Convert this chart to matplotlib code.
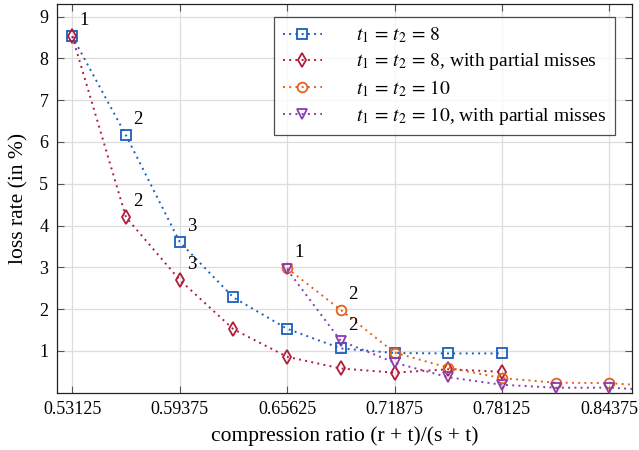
import matplotlib
matplotlib.use("Agg")
import matplotlib.pyplot as plt

plt.rcParams['font.family'] = ['Liberation Serif', 'DejaVu Serif']
plt.rcParams['mathtext.fontset'] = 'stix'

# data
x_t8 = [0.53125, 0.5625, 0.59375, 0.625, 0.65625, 0.6875, 0.71875, 0.75, 0.78125]
y_t8 = [8.53, 6.16, 3.61, 2.28, 1.53, 1.06, 0.95, 0.94, 0.94]
x_t8p = [0.53125, 0.5625, 0.59375, 0.625, 0.65625, 0.6875, 0.71875, 0.75, 0.78125]
y_t8p = [8.53, 4.20, 2.70, 1.52, 0.86, 0.58, 0.48, 0.56, 0.50]
x_t10 = [0.65625, 0.6875, 0.71875, 0.75, 0.78125, 0.8125, 0.84375, 0.875]
y_t10 = [2.98, 1.98, 0.96, 0.60, 0.35, 0.24, 0.23, 0.14]
x_t10p = [0.65625, 0.6875, 0.71875, 0.75, 0.78125, 0.8125, 0.84375, 0.875]
y_t10p = [2.95, 1.24, 0.72, 0.37, 0.19, 0.12, 0.12, 0.05]

labels = [r'$t_1\,=\,t_2\,=\,8$',
          r'$t_1\,=\,t_2\,=\,8$, with partial misses',
          r'$t_1\,=\,t_2\,=\,10$',
          r'$t_1\,=\,t_2\,=\,10$, with partial misses']
colors = ['#1a5fc0', '#b01c3a', '#e4621f', '#8a3cae']
markers = ['s', 'd', 'o', 'v']

xticks = [0.53125, 0.59375, 0.65625, 0.71875, 0.78125, 0.84375]
xticklabels = ['0.53125', '0.59375', '0.65625', '0.71875', '0.78125', '0.84375']
yticks = [1, 2, 3, 4, 5, 6, 7, 8, 9]

# annotations: (series index, point index, text)
notes = [(0, 0, '1'), (0, 1, '2'), (0, 2, '3'),
         (1, 1, '2'), (1, 2, '3'),
         (2, 0, '1'), (2, 1, '2'), (3, 1, '2')]

fig = plt.figure(figsize=(6.39, 4.5), dpi=100)
ax = fig.add_axes([0.0887, 0.1273, 0.9008, 0.8637])

series = [(x_t8, y_t8), (x_t8p, y_t8p), (x_t10, y_t10), (x_t10p, y_t10p)]
for (xs, ys), c, m, lab in zip(series, colors, markers, labels):
    ax.plot(xs, ys, linestyle=(0, (1, 2.2)), linewidth=1.4, color=c,
            marker=m, markersize=7 if m != 'd' else 7.5, markerfacecolor='none',
            markeredgewidth=1.3, markeredgecolor=c, label=lab, zorder=3)

for si, pi, t in notes:
    xs, ys = series[si]
    ax.annotate(t, (xs[pi], ys[pi]), xytext=(5, 5), textcoords='offset points',
                ha='left', va='bottom', fontsize=13.5)

ax.set_xlim(0.5222, 0.8571)
ax.set_ylim(0, 9.3)
ax.set_xticks(xticks)
ax.set_xticklabels(xticklabels)
ax.set_yticks(yticks)
ax.tick_params(direction='in', length=5, width=0.8, color='#555555',
               top=True, right=True, labelsize=13, pad=6)
ax.grid(True, color='#dddddd', linewidth=0.9, zorder=0)
ax.set_axisbelow(True)
for s in ax.spines.values():
    s.set_linewidth(0.9)
    s.set_color('#222222')

ax.set_xlabel('compression ratio (r + t)/(s + t)', fontsize=15.5, labelpad=6)
ax.set_ylabel('loss rate (in %)', fontsize=15.5, labelpad=8)

leg = ax.legend(loc='upper right', bbox_to_anchor=(0.970, 0.9666), fontsize=14,
                frameon=True, fancybox=False, edgecolor='#222222',
                handlelength=2.0, handletextpad=1.75, borderpad=0.45,
                labelspacing=0.3, borderaxespad=0)
leg.get_frame().set_linewidth(0.9)

fig.savefig('out.png', dpi=100)
